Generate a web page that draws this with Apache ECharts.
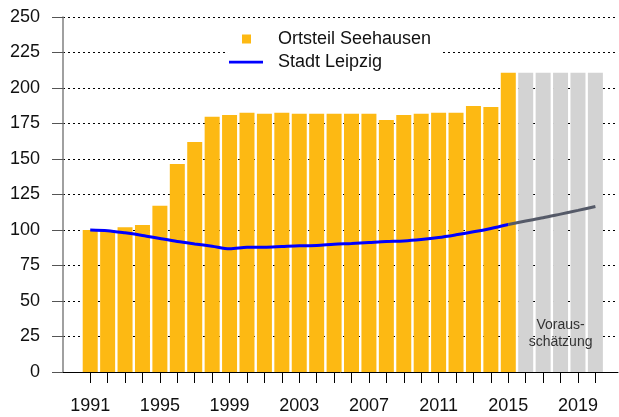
<!DOCTYPE html>
<html>
<head>
<meta charset="utf-8">
<script src="https://cdn.jsdelivr.net/npm/echarts@6/dist/echarts.min.js"></script>
<style>
  html, body { margin: 0; padding: 0; background: #fff; }
  #chart { width: 619px; height: 417px; }
</style>
</head>
<body>
<div id="chart"></div>
<script>
// Einwohnerentwicklung, Index 1991 = 100
const years = ['1991','1992','1993','1994','1995','1996','1997','1998','1999','2000',
  '2001','2002','2003','2004','2005','2006','2007','2008','2009','2010',
  '2011','2012','2013','2014','2015','2016','2017','2018','2019','2020'];

// Ortsteil Seehausen, 1991-2015
const seehausen = [100, 100, 102, 103.5, 117, 146.5, 162, 179.7, 181, 182.5,
  181.8, 182.5, 181.8, 181.8, 181.8, 181.8, 181.8, 177.5, 181, 181.8,
  182.5, 182.5, 187.4, 186.7, 210.7];
// Ortsteil Seehausen, Vorausschätzung 2016-2020
const seehausenForecast = [210.7, 210.7, 210.7, 210.7, 210.7];

// Stadt Leipzig, 1991-2015
const leipzig = [100, 99.5, 98, 96.2, 94, 91.9, 90.2, 88.6, 86.8, 87.8,
  87.9, 88.4, 88.9, 89.1, 90, 90.5, 91.2, 91.9, 92.3, 93.3,
  94.7, 96.6, 98.7, 101.1, 103.9];
// Stadt Leipzig, Vorausschätzung 2016-2020
const leipzigForecast = [106.3, 108.6, 111.2, 113.8, 116.6];

const yTicks = { min: 0, max: 250, step: 25 };
const forecastNote = 'Voraus-\nschätzung';
const noteYear = '2018';

const FONT = '"Liberation Sans", Arial, sans-serif';
const nActual = seehausen.length;
const nForecast = seehausenForecast.length;
const blanks = n => Array(n).fill('-');

const barActual = seehausen.concat(blanks(nForecast));
const barForecast = blanks(nActual).concat(seehausenForecast);
const lineActual = leipzig.concat(blanks(nForecast));
const lineForecast = blanks(nActual - 1).concat([leipzig[nActual - 1]], leipzigForecast);

const chart = echarts.init(document.getElementById('chart'), null, { renderer: 'canvas' });

chart.setOption({
  backgroundColor: '#fff',
  animation: false,
  textStyle: { fontFamily: FONT },
  grid: [
    // frame: value axis with gridlines, full width
    { left: 63, right: 1, top: 17, height: 355, containLabel: false },
    // plot: categories
    { left: 81.5, width: 522.6, top: 17, height: 355, containLabel: false }
  ],
  xAxis: [
    {
      gridIndex: 0, type: 'value', min: 0, max: 1,
      axisLine: { show: true, lineStyle: { color: '#000', width: 1 } },
      axisTick: { show: false }, axisLabel: { show: false }, splitLine: { show: false }
    },
    {
      gridIndex: 1, type: 'category', data: years, boundaryGap: true,
      axisLine: { show: false },
      axisTick: { show: true, alignWithLabel: true, interval: 0, length: 11,
        lineStyle: { color: '#000', width: 1 } },
      axisLabel: { interval: 3, margin: 25, fontSize: 18, color: '#111', fontFamily: FONT },
      splitLine: { show: false }
    }
  ],
  yAxis: [
    {
      gridIndex: 0, type: 'value', min: yTicks.min, max: yTicks.max, interval: yTicks.step,
      axisLine: { show: true, lineStyle: { color: '#808080', width: 1.5 } },
      axisTick: { show: true, length: 11, lineStyle: { color: '#555', width: 1 } },
      axisLabel: { margin: 23, fontSize: 18, color: '#111', fontFamily: FONT, padding: [4, 0, 0, 0] },
      splitLine: { show: true, lineStyle: { color: '#000', width: 1, type: [2, 3] } }
    },
    {
      gridIndex: 1, type: 'value', min: yTicks.min, max: yTicks.max, show: false
    }
  ],
  legend: {
    orient: 'vertical',
    left: 225, top: 18,
    backgroundColor: '#fff',
    padding: [10, 10, 7, 4],
    itemWidth: 44, itemHeight: 9, itemGap: 1,
    itemStyle: { borderWidth: 0 },
    textStyle: { fontSize: 18, lineHeight: 22, color: '#111', fontFamily: FONT },
    data: [
      { name: 'Ortsteil Seehausen', icon: 'path://M0,4.5L0,4.5M13,0h9v9h-9zM44,4.5L44,4.5' },
      { name: 'Stadt Leipzig', icon: 'path://M0,0L0,0M0,3.3h34v2.6h-34zM44,9L44,9' }
    ]
  },
  series: [
    {
      name: 'Ortsteil Seehausen', type: 'bar', xAxisIndex: 1, yAxisIndex: 1,
      data: barActual, barWidth: 15, barGap: '-100%',
      itemStyle: { color: '#FDB913' }, z: 2
    },
    {
      name: 'Vorausschätzung', type: 'bar', xAxisIndex: 1, yAxisIndex: 1,
      data: barForecast, barWidth: 15, barGap: '-100%',
      itemStyle: { color: '#D3D3D3' }, z: 2,
      label: {
        show: true, position: 'insideBottom', distance: 21,
        formatter: p => (p.name === noteYear ? forecastNote : ''),
        fontSize: 14, lineHeight: 17, color: '#333', fontFamily: FONT, align: 'center'
      }
    },
    {
      name: 'Stadt Leipzig', type: 'line', xAxisIndex: 1, yAxisIndex: 1,
      data: lineActual, smooth: 0.3, symbol: 'none', showSymbol: false,
      lineStyle: { color: '#0000FF', width: 3 }, itemStyle: { color: '#0000FF' }, z: 5
    },
    {
      name: 'Stadt Leipzig Vorausschätzung', type: 'line', xAxisIndex: 1, yAxisIndex: 1,
      data: lineForecast, smooth: 0.3, symbol: 'none', showSymbol: false,
      lineStyle: { color: '#555A68', width: 3 }, itemStyle: { color: '#555A68' }, z: 5
    }
  ]
});
</script>
</body>
</html>
